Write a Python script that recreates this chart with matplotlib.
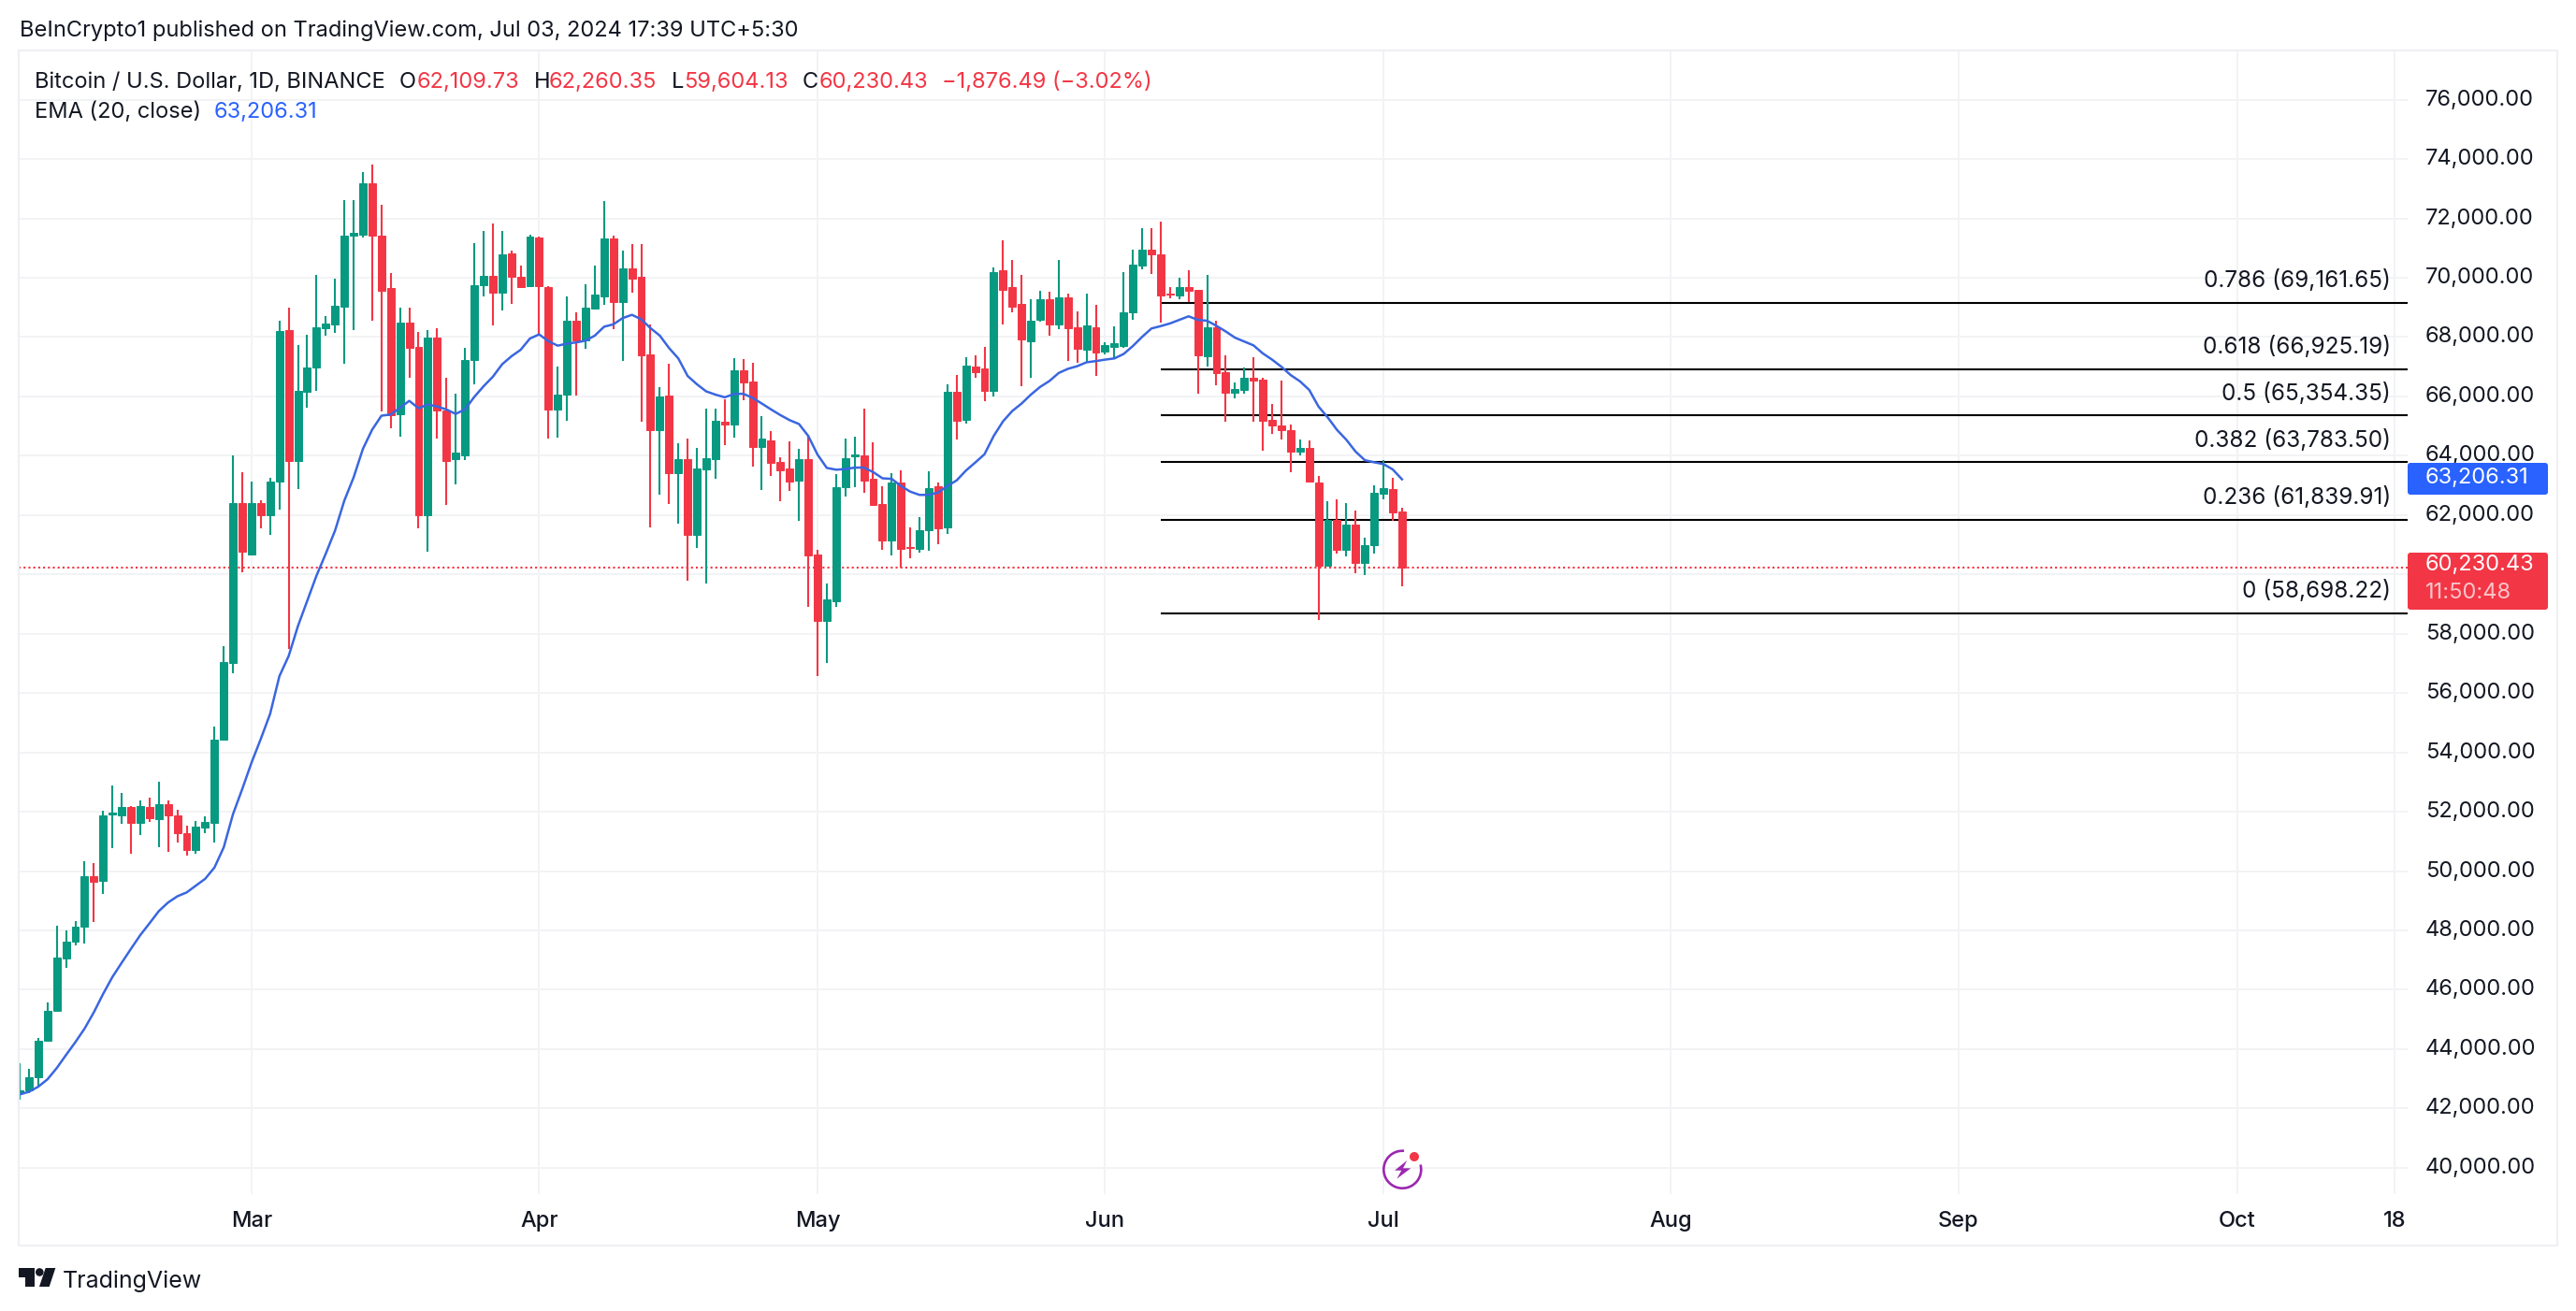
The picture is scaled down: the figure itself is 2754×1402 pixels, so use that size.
import numpy as np
import matplotlib
matplotlib.use("Agg")
import matplotlib.pyplot as plt
from matplotlib.patches import FancyBboxPatch, Polygon, Circle, Arc
from matplotlib.transforms import ScaledTranslation

plt.rcParams['font.family'] = ['Inter', 'DejaVu Sans']

opens = [42520,42620,43040,44280,45280,47060,47610,48140,49830,49680,
 51900,51880,52150,51630,52150,51760,52240,51880,51290,50720,
 51480,51630,54440,57000,62410,60670,62410,62010,63130,68240,
 63820,66150,66970,68310,68410,69020,71410,71460,73190,71430,
 69640,65410,68500,67670,61990,67990,65540,63870,64010,67230,
 69760,70060,69510,70820,70020,69720,71370,69680,65560,66070,
 68560,67880,68960,69380,71330,69190,70310,70020,67410,64870,
 66020,63420,63880,61340,63540,63880,65160,65050,66880,66490,
 64290,64530,63800,63570,63160,63880,60670,58440,59100,62930,
 63980,64000,63220,62370,61130,63090,60930,60870,61490,62970,
 61590,66140,65210,67000,66940,66180,70240,69680,69110,67870,
 68570,69290,68410,69330,68340,67560,68340,67500,67660,67710,
 68830,70420,70950,70800,69460,69390,69700,69580,67350,68320,
 66830,66120,66210,66640,66550,65220,65030,64870,64150,64270,
 63110,60290,61850,60840,61680,60400,60980,62720,62880,62109.73]
highs = [43530,43320,44380,45580,48160,48010,48330,50320,50270,52030,
 52870,52620,52180,52390,52490,53020,52390,52050,51540,51690,
 51860,54860,57590,64010,63440,63130,62490,63250,68560,69000,
 67740,68070,70080,68710,69980,72620,72620,73570,73820,72450,
 70170,69000,69000,68160,68240,68310,66640,66090,67650,71160,
 71580,71840,71580,70930,70420,71460,71390,69720,67020,69380,
 68830,69790,70420,72600,71430,70910,71140,71140,68440,66310,
 67090,64410,64580,64260,65580,65600,65910,67280,67250,67130,
 65340,64820,63940,64480,64230,64720,60830,59680,63380,64580,
 64640,65580,64450,62980,63410,63500,61590,61920,63470,63090,
 66420,66720,67310,67380,67660,70360,71270,70590,70090,69270,
 69570,69520,70590,69480,68860,69480,69080,67810,68370,70200,
 70950,71660,71660,71880,69700,70010,70240,69600,70110,68560,
 67390,66470,66960,67330,66630,65760,66520,65060,64560,64530,
 63320,62470,62540,62410,62160,61240,63000,63850,63260,62260.35]
lows = [42300,42515,42730,44280,45260,46740,47480,47570,48290,49240,
 50780,51600,50570,51200,51670,50820,50650,50950,50530,50590,
 51290,50950,54440,56680,60060,60630,61540,61330,62180,57480,
 62870,65620,66190,68050,68140,67100,68240,71370,68560,65490,
 64920,64650,66640,61540,60780,64590,62340,63040,63850,66400,
 69380,68390,68900,69130,69640,69720,68090,64590,64610,65180,
 66020,67590,68920,69090,68260,67210,69510,65160,61600,62680,
 62370,61710,59790,60900,59700,63220,64350,64600,65880,63630,
 62850,63330,62470,62810,61800,58910,56560,57030,58920,62620,
 62930,62750,62310,60840,60650,60220,60540,60730,60800,61010,
 61360,64540,65090,66620,65830,65990,68420,68820,66340,66620,
 68520,68040,68260,67210,67130,67140,66690,67430,67260,67640,
 68580,70300,70120,68480,69300,69270,69190,66090,67000,66370,
 65140,65930,66090,65140,64160,64750,64560,63430,64000,63130,
 58470,60290,60710,60610,60050,59990,60710,62520,61820,59604.13]
closes = [42620,43040,44270,45280,47080,47610,48120,49830,49640,51880,
 51960,52150,51630,52180,51770,52260,51880,51290,50720,51500,
 51670,54440,57040,62410,60780,62410,62010,63130,68200,63820,
 66190,66970,68330,68450,69070,71410,71500,73170,71410,69570,
 65370,68500,67650,61990,67990,65540,63820,64100,67230,69760,
 70060,69510,70800,70020,69700,71390,69720,65560,66070,68560,
 67880,69000,69430,71330,69190,70310,69980,67400,64870,65990,
 63420,63880,61340,63570,63920,65170,65050,66880,66470,64300,
 64580,63770,63500,63130,63880,60650,58440,59160,62930,63920,
 64030,63160,62330,61130,63110,60870,60880,61490,62910,61550,
 66140,65170,67030,66820,66190,70180,69580,69020,67910,68550,
 69290,68410,69340,68300,67610,68390,67490,67730,67780,68820,
 70430,70950,70790,69390,69430,69700,69550,67380,68320,66780,
 66120,66260,66640,66520,65190,65010,64850,64150,64260,63140,
 60290,61850,60840,61680,60400,60990,62760,62920,62100,60230.43]
ema20 = [42470,42560,42730,42980,43360,43800,44230,44690,45240,45860,
 46430,46910,47380,47840,48240,48650,48940,49150,49280,49510,
 49740,50120,50800,51920,52770,53660,54460,55300,56570,57250,
 58260,59110,59960,60700,61480,62490,63270,64230,64880,65350,
 65390,65620,65850,65600,65730,65660,65560,65410,65560,65980,
 66340,66660,67080,67350,67570,67950,68090,67860,67710,67780,
 67820,67880,68050,68350,68430,68640,68750,68600,68300,68050,
 67630,67280,66690,66410,66170,66060,65970,66080,66090,65950,
 65760,65560,65370,65200,65070,64670,64040,63590,63530,63550,
 63600,63600,63450,63240,63220,62980,62790,62680,62680,62760,
 62980,63170,63500,63770,64050,64670,65160,65510,65760,66060,
 66320,66520,66790,66930,67020,67150,67190,67240,67280,67430,
 67700,68010,68290,68370,68460,68580,68700,68580,68550,68380,
 68190,67980,67850,67720,67450,67240,67000,66720,66510,66220,
 65660,65290,64870,64540,64140,63850,63780,63720,63540,63206.31]

fib_ratios = ['0.786', '0.618', '0.5', '0.382', '0.236', '0']
fib_prices = [69161.65, 66925.19, 65354.35, 63783.50, 61839.91, 58698.22]
fib_start = 123

month_labels = ['Mar', 'Apr', 'May', 'Jun', 'Jul', 'Aug', 'Sep', 'Oct', '18']
month_pos = [25, 56, 86, 117, 147, 178, 209, 239, 256]
y_ticks = list(range(40000, 76001, 2000))
last_price = 60230.43

RED, GREEN, BLUE, INK, GRID = '#f23645', '#089981', '#3a66e0', '#131722', '#f2f3f5'
W, H = 2754, 1402
FS = 17

fig = plt.figure(figsize=(W/100, H/100), dpi=100, facecolor='white')
L, R, T, B = 20, 2574, 54, 1277
ax = fig.add_axes([L/W, 1-B/H, (R-L)/W, (B-T)/H])
ax.set_xlim(-0.1, 257.4)
ax.set_ylim(39111, 77660)
for s in ax.spines.values():
    s.set_visible(False)
ax.yaxis.tick_right()
ax.set_yticks(y_ticks)
ax.set_yticklabels([f'{v:,.2f}' for v in y_ticks], fontsize=FS, color=INK)
ax.set_xticks(month_pos)
ax.set_xticklabels(month_labels, fontsize=FS, color=INK, fontweight='medium')
ax.tick_params(axis='y', length=0, pad=13.5)
ax.tick_params(axis='x', length=0, pad=13)
ax.grid(True, color=GRID, lw=1.4, zorder=0)
ax.set_axisbelow(True)
lift = ScaledTranslation(0, 2.5/100, fig.dpi_scale_trans)
for lab in ax.get_yticklabels():
    lab.set_transform(lab.get_transform() + lift)

ax.axhline(last_price, color=RED, lw=1.5, ls=(0, (1, 1.5)), zorder=1)
ax.hlines(fib_prices, fib_start, 257.4, color='black', lw=1.5, zorder=2)
for r, p in zip(fib_ratios, fib_prices):
    ax.annotate(f'{r} ({p:,.2f})', xy=(1, p), xycoords=('axes fraction', 'data'),
                xytext=(-13, 8.3), textcoords='offset points', ha='right', va='bottom',
                fontsize=17.5, color=INK, zorder=6)

x = np.arange(len(opens))
o, h, l, c = map(np.array, (opens, highs, lows, closes))
cols = [GREEN if a >= b else RED for a, b in zip(c, o)]
ax.vlines(x, l, h, color=cols, lw=1.5, zorder=3)
ax.bar(x, np.abs(c-o), bottom=np.minimum(o, c), width=0.8, color=cols,
       edgecolor=cols, linewidth=0.7, zorder=3.5)
ax.plot(x, ema20, color=BLUE, lw=1.8, zorder=4, solid_joinstyle='round')

# page furniture, in pixel coordinates
ov = fig.add_axes([0, 0, 1, 1], zorder=5)
ov.set_xlim(0, W); ov.set_ylim(H, 0); ov.axis('off'); ov.patch.set_alpha(0)
FR = '#eff0f3'
ov.plot([20, 2734, 2734, 20, 20], [54, 54, 1332, 1332, 54], color=FR, lw=1.6)

def t(px, py, s, color=INK, size=FS, **kw):
    ov.text(px, py, s, color=color, fontsize=size, va='center', **kw)

t(21, 33, 'BeInCrypto1 published on TradingView.com, Jul 03, 2024 17:39 UTC+5:30', size=17)
t(37, 88, 'Bitcoin / U.S. Dollar, 1D, BINANCE')
for px, s in [(427, 'O'), (571, 'H'), (718, 'L'), (858, 'C')]:
    t(px, 88, s)
for px, s in [(446, '62,109.73'), (587, '62,260.35'), (731, '59,604.13'),
              (876, '60,230.43'), (1007, '\u22121,876.49 (\u22123.02%)')]:
    t(px, 88, s, color=RED)
t(37, 120, 'EMA (20, close)')
t(229, 120, '63,206.31', color='#2962ff')

ov.add_patch(FancyBboxPatch((2574, 495), 150, 34, boxstyle='round,pad=0,rounding_size=3',
                            fc='#2962ff', ec='none'))
ov.add_patch(FancyBboxPatch((2574, 591), 150, 61, boxstyle='round,pad=0,rounding_size=3',
                            fc=RED, ec='none'))
t(2593, 511, '63,206.31', color='white')
t(2593, 604, '60,230.43', color='white')
t(2593, 634, '11:50:48', color='#fbc4c9')

# lightning badge
ov.add_patch(Arc((1499.3, 1250.7), 40, 40, theta1=-15, theta2=275, ec='#9c27b0', lw=1.9))
ov.add_patch(Polygon([(1504.3, 1241), (1491, 1251.7), (1498.3, 1251.7), (1493.3, 1260.7),
                      (1508.3, 1249.3), (1500, 1249.3)], closed=True, fc='#9c27b0', ec='none'))
ov.add_patch(Circle((1512, 1237), 5, fc=RED, ec='none'))

# TradingView logo
ov.add_patch(Polygon([(20, 1356), (36.7, 1356), (36.7, 1376), (27.3, 1376), (27.3, 1366), (20, 1366)],
                     closed=True, fc=INK, ec='none'))
ov.add_patch(Circle((42.3, 1360.5), 4.3, fc=INK, ec='none'))
ov.add_patch(Polygon([(48.7, 1356), (59.3, 1356), (52.7, 1376), (42, 1376)], closed=True, fc=INK, ec='none'))
ov.text(67, 1377, 'TradingView', color=INK, fontsize=18, va='baseline')

fig.savefig('out.png', dpi=100, facecolor='white')
